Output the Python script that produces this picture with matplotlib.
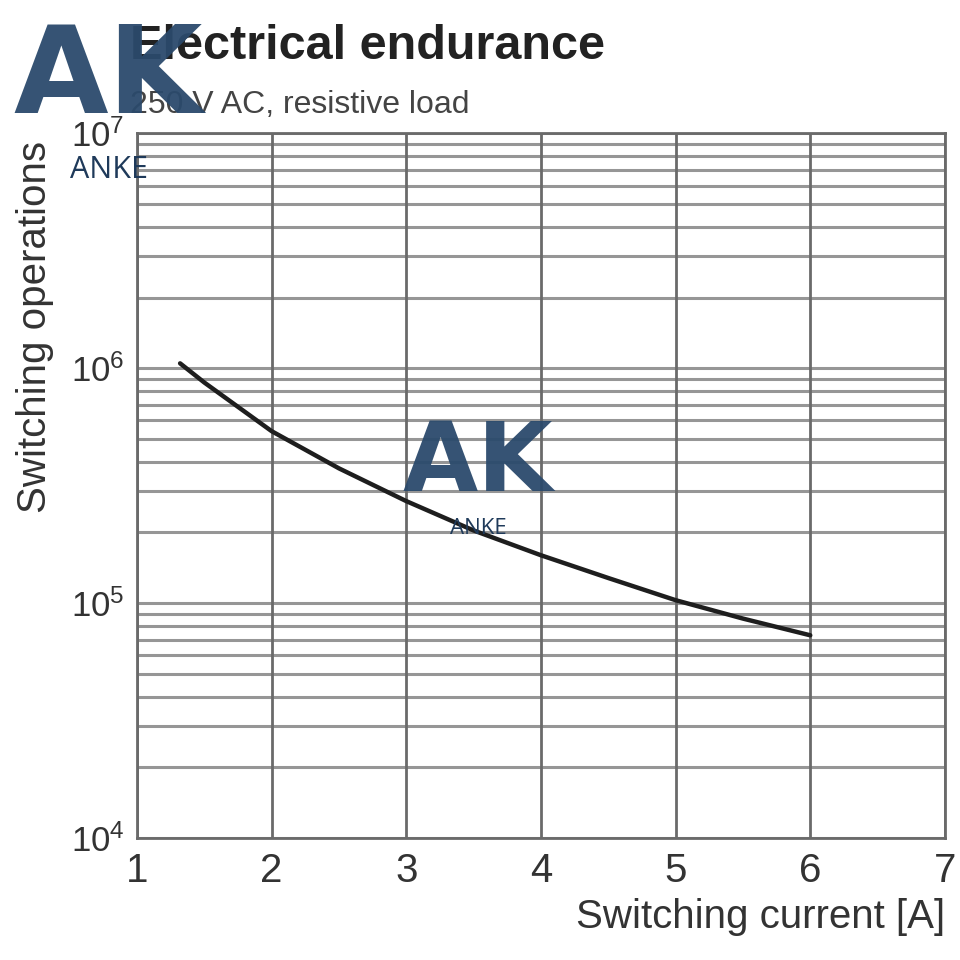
import matplotlib
matplotlib.use("Agg")
import matplotlib.pyplot as plt
from matplotlib.ticker import LogLocator, FixedLocator, FixedFormatter

FONT = ['Liberation Sans', 'DejaVu Sans']
plt.rcParams['font.family'] = FONT
plt.rcParams['mathtext.fontset'] = 'custom'
plt.rcParams['mathtext.rm'] = 'Liberation Sans'
plt.rcParams['mathtext.it'] = 'Liberation Sans'

# Data
current_A = [1.32, 1.5, 2.0, 2.5, 3.0, 3.5, 4.0, 4.5, 5.0, 5.5, 6.0]
operations = [1.05e6, 8.7e5, 5.4e5, 3.75e5, 2.72e5, 2.04e5, 1.6e5, 1.28e5, 1.03e5, 8.6e4, 7.3e4]

x_ticks = [1, 2, 3, 4, 5, 6, 7]
y_ticks = [1e4, 1e5, 1e6, 1e7]
y_tick_labels = [r'$10^4$', r'$10^5$', r'$10^6$', r'$10^7$']

title = "Electrical endurance"
subtitle = "250 V AC, resistive load"
x_label = "Switching current [A]"
y_label = "Switching operations"

GRID = '#6a6a6a'
TXT = '#333333'

fig = plt.figure(figsize=(9.6, 9.6), dpi=100)
ax = fig.add_axes([0.1427, 0.127, 0.8416, 0.734])
ax.set_yscale('log')
ax.set_xlim(1, 7)
ax.set_ylim(1e4, 1e7)

ax.xaxis.set_major_locator(FixedLocator(x_ticks))
ax.yaxis.set_major_locator(FixedLocator(y_ticks))
ax.yaxis.set_major_formatter(FixedFormatter(y_tick_labels))
ax.yaxis.set_minor_locator(LogLocator(base=10, subs=range(2, 10)))
ax.yaxis.set_minor_formatter(plt.NullFormatter())

ax.grid(True, axis='x', which='major', color=GRID, lw=2.0)
ax.grid(True, axis='y', which='both', color=GRID, lw=2.2, alpha=0.7)
for s in ax.spines.values():
    s.set_color(GRID)
    s.set_linewidth(2.0)
ax.tick_params(axis='both', which='both', length=0, colors=TXT)
ax.tick_params(axis='x', labelsize=29, pad=10)
ax.tick_params(axis='y', labelsize=25, pad=9)

ax.plot(current_A, operations, color='#1e1e1e', lw=3.2, solid_capstyle='round')

ax.set_xlabel(x_label, fontsize=29, color=TXT, loc='right', labelpad=6)
ax.set_ylabel(y_label, fontsize=29, color=TXT, loc='top')
ax.yaxis.set_label_coords(-0.103, 0.99)

fig.text(0.135, 0.952, title, fontsize=35, fontweight='bold', color='#222222',
         ha='left', va='center')
fig.text(0.135, 0.891, subtitle, fontsize=23, color='#444444', ha='left', va='center')

# ANKE watermarks
fig.text(0.113, 0.917, "AK", fontsize=88, fontweight='bold', color='#2b4a6c',
         ha='center', va='center', family=['DejaVu Sans'], alpha=0.95)
fig.text(0.1135, 0.823, "ANKE", fontsize=22, color='#1f3a5a', ha='center',
         va='center', family=['Open Sans', 'DejaVu Sans'])
fig.text(0.498, 0.516, "AK", fontsize=70, fontweight='bold', color='#2b4a6c',
         ha='center', va='center', family=['DejaVu Sans'], alpha=0.95)
fig.text(0.498, 0.449, "ANKE", fontsize=16, color='#1f3a5a', ha='center',
         va='center', family=['Open Sans', 'DejaVu Sans'])

fig.savefig('out.png', dpi=100, facecolor='white')
